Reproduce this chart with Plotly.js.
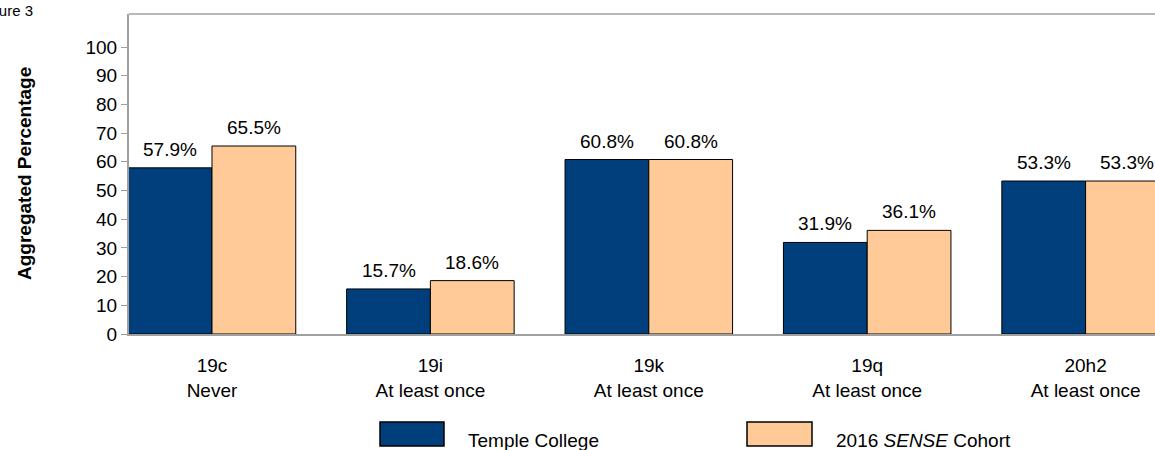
<!DOCTYPE html>
<html>
<head>
<meta charset="utf-8">
<script src="https://cdn.plot.ly/plotly-3.0.1.min.js"></script>
<style>
html,body{margin:0;padding:0;overflow:hidden;background:#fff;}
#chart{width:1300px;height:450px;}
</style>
</head>
<body>
<div id="chart"></div>
<script>
// ---- data ----
const categories = ["19c<br>Never", "19i<br>At least once", "19k<br>At least once", "19q<br>At least once", "20h2<br>At least once"];
const templeCollege = [57.9, 15.7, 60.8, 31.9, 53.3];
const senseCohort = [65.5, 18.6, 60.8, 36.1, 53.3];
const seriesNames = ["Temple College", "2016 <i>SENSE</i> Cohort"];
const yTicks = [0, 10, 20, 30, 40, 50, 60, 70, 80, 90, 100];
const figureLabel = "Figure 3";
const yTitle = "Aggregated Percentage";

// ---- geometry ----
const W = 1300, H = 450;
const L = 129, T = 14, R = 100, B = 116;
const PW = W - L - R, PH = H - T - B;
const px2x = p => (p - L) / PW;
const py2y = p => (T + PH - p) / PH;

const blue = "#003F7B";
const peach = "#FFCA97";
const font = "Liberation Sans, Arial, sans-serif";

const idx = categories.map((c, i) => i);

const traces = [
  {type: "bar", x: idx, y: templeCollege, name: seriesNames[0],
   marker: {color: blue, line: {color: "#000", width: 1}}, hoverinfo: "none"},
  {type: "bar", x: idx, y: senseCohort, name: seriesNames[1],
   marker: {color: peach, line: {color: "#000", width: 1}}, hoverinfo: "none"}
];

const barHalf = 41.8;
const annotations = [];
templeCollege.forEach((v, i) => annotations.push({
  x: i, y: v, xref: "x", yref: "y", text: v.toFixed(1) + "%", showarrow: false,
  xshift: -barHalf, yanchor: "bottom", yshift: 6, font: {family: font, size: 19, color: "#000"}
}));
senseCohort.forEach((v, i) => annotations.push({
  x: i, y: v, xref: "x", yref: "y", text: v.toFixed(1) + "%", showarrow: false,
  xshift: barHalf, yanchor: "bottom", yshift: 6, font: {family: font, size: 19, color: "#000"}
}));
// figure label
annotations.push({xref: "paper", yref: "paper", x: px2x(35), y: py2y(0), xanchor: "right", yanchor: "top",
  text: figureLabel, showarrow: false, font: {family: font, size: 15, color: "#000"}});
// y title
annotations.push({xref: "paper", yref: "paper", x: px2x(24), y: py2y(174), xanchor: "center", yanchor: "middle",
  textangle: -90, text: "<b>" + yTitle + "</b>", showarrow: false, font: {family: font, size: 19, color: "#000"}});
// legend labels
annotations.push({xref: "paper", yref: "paper", x: px2x(466), y: py2y(440), xanchor: "left", yanchor: "middle",
  text: seriesNames[0], showarrow: false, font: {family: font, size: 19, color: "#000"}});
annotations.push({xref: "paper", yref: "paper", x: px2x(834), y: py2y(440), xanchor: "left", yanchor: "middle",
  text: seriesNames[1], showarrow: false, font: {family: font, size: 19, color: "#000"}});

const shapes = [
  // top border
  {type: "line", xref: "paper", yref: "paper", x0: 0, x1: 1, y0: 1, y1: 1, line: {color: "#A0A0A0", width: 1.5}},
  // legend swatches
  {type: "rect", xref: "paper", yref: "paper", x0: px2x(380), x1: px2x(444), y0: py2y(446), y1: py2y(422),
   fillcolor: blue, line: {color: "#000", width: 1.5}},
  {type: "rect", xref: "paper", yref: "paper", x0: px2x(747), x1: px2x(812), y0: py2y(446), y1: py2y(422),
   fillcolor: peach, line: {color: "#000", width: 1.5}}
];

const layout = {
  width: W, height: H,
  margin: {l: L, r: R, t: T, b: B, pad: 0},
  paper_bgcolor: "#fff", plot_bgcolor: "#fff",
  barmode: "group", bargap: 0.233, bargroupgap: 0,
  showlegend: false,
  font: {family: font, size: 19, color: "#000"},
  xaxis: {
    range: [-0.38, -0.38 + PW / 218.4],
    tickmode: "array", tickvals: idx, ticktext: categories,
    showline: true, linecolor: "#A0A0A0", linewidth: 2,
    ticks: "outside", ticklen: 13, tickcolor: "rgba(0,0,0,0)",
    showgrid: false, zeroline: false, fixedrange: true,
    tickfont: {family: font, size: 19, color: "#000"}
  },
  yaxis: {
    range: [0, PH / 2.87],
    tickmode: "array", tickvals: yTicks,
    showline: true, linecolor: "#A0A0A0", linewidth: 2,
    ticks: "outside", ticklen: 6, tickcolor: "#A0A0A0", tickwidth: 1,
    showgrid: false, zeroline: false, fixedrange: true,
    tickfont: {family: font, size: 19, color: "#000"}
  },
  annotations: annotations,
  shapes: shapes
};

Plotly.newPlot("chart", traces, layout, {displayModeBar: false, staticPlot: true});
</script>
</body>
</html>
